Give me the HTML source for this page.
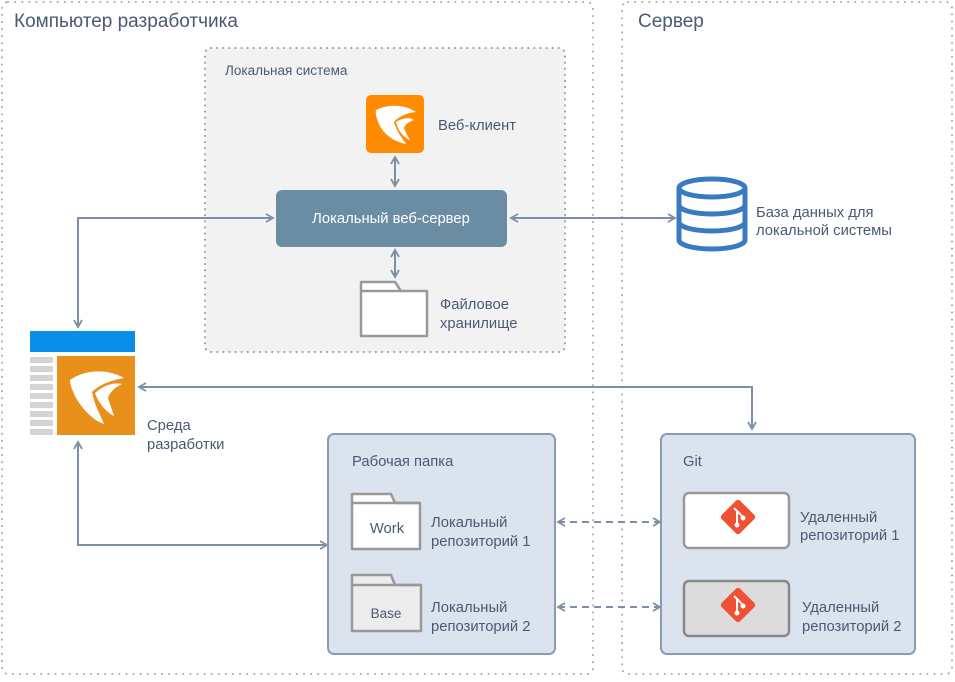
<!DOCTYPE html>
<html><head><meta charset="utf-8"><style>
html,body{margin:0;padding:0;background:#fff;}
text{font-family:"Liberation Sans",sans-serif;fill:#4a5a73;}
</style></head><body>
<svg width="955" height="677" xmlns="http://www.w3.org/2000/svg">
<defs>
<marker id="a" markerWidth="10" markerHeight="10" refX="8" refY="5" orient="auto-start-reverse" markerUnits="userSpaceOnUse">
<path d="M1,1 L8,5 L1,9" fill="none" stroke="#7d8fa8" stroke-width="1.8"/></marker>
</defs>
<rect x="2" y="2" width="591" height="672" rx="6" fill="none" stroke="#aaa" stroke-width="2" stroke-dasharray="0.1 7" stroke-linecap="round"/>
<rect x="622" y="2" width="330" height="672" rx="6" fill="none" stroke="#aaa" stroke-width="2" stroke-dasharray="0.1 7" stroke-linecap="round"/>
<text x="14" y="27" font-size="19">Компьютер разработчика</text>
<text x="638" y="27" font-size="19">Сервер</text>

<rect x="205" y="48" width="360" height="304" rx="6" fill="#f2f2f2" stroke="#999" stroke-width="2" stroke-dasharray="0.1 6" stroke-linecap="round"/>
<text x="225" y="75" font-size="13.5">Локальная система</text>

<rect x="366" y="95" width="58" height="58" rx="5" fill="#ff8c00"/>
<path d="M376,110 C388,104 404,104 416,112 C406,113 398,117 394,122 C396,130 402,138 406,144 C394,142 384,134 380,126 C377,120 375,114 376,110Z" fill="#fff"/>
<path d="M396,122 C402,118 410,117 414,120 C408,122 405,125 404,128 C406,133 408,137 410,140 C404,138 400,132 398,128Z" fill="#fff"/>
<text x="438" y="130" font-size="14.8">Веб-клиент</text>

<rect x="276" y="190" width="231" height="57" rx="6" fill="#6b8da3"/>
<text x="391" y="223" font-size="14.8" text-anchor="middle" style="fill:#fff">Локальный веб-сервер</text>

<line x1="395" y1="157" x2="395" y2="186" stroke="#7d8fa8" stroke-width="2" marker-start="url(#a)" marker-end="url(#a)"/>
<line x1="395" y1="250" x2="395" y2="277" stroke="#7d8fa8" stroke-width="2" marker-start="url(#a)" marker-end="url(#a)"/>

<path d="M361,336 V282 H395 L401,291 H427 V336 Z" fill="#fff" stroke="#999" stroke-width="2.5" stroke-linejoin="round"/>
<line x1="361" y1="291" x2="401" y2="291" stroke="#999" stroke-width="2.5"/>
<text x="440" y="309" font-size="14.8">Файловое</text>
<text x="440" y="328" font-size="14.8">хранилище</text>

<g fill="none" stroke="#3a7bbf" stroke-width="5">
<ellipse cx="712" cy="188" rx="33" ry="9"/>
<path d="M679,188 V240 A33,9 0 0 0 745,240 V188"/>
<path d="M679,205 A33,9 0 0 0 745,205"/>
<path d="M679,222 A33,9 0 0 0 745,222"/>
</g>
<text x="756" y="217" font-size="14.8">База данных для</text>
<text x="756" y="235" font-size="14.8">локальной системы</text>

<line x1="511" y1="218" x2="675" y2="218" stroke="#7d8fa8" stroke-width="2" marker-start="url(#a)" marker-end="url(#a)"/>
<path d="M273,218 H78 V327" fill="none" stroke="#7d8fa8" stroke-width="2" marker-start="url(#a)" marker-end="url(#a)"/>

<rect x="30" y="331" width="105" height="21" fill="#0a8ee8"/>
<g fill="#d4d4d4">
<rect x="30" y="357" width="23" height="6"/><rect x="30" y="366" width="23" height="6"/><rect x="30" y="375" width="23" height="6"/><rect x="30" y="384" width="23" height="6"/><rect x="30" y="393" width="23" height="6"/><rect x="30" y="402" width="23" height="6"/><rect x="30" y="411" width="23" height="6"/><rect x="30" y="420" width="23" height="6"/><rect x="30" y="429" width="23" height="6"/>
</g>
<rect x="57" y="356" width="78" height="79" fill="#e8901a"/>
<path d="M70,380 C84,370 106,368 124,378 C112,380 100,384 92,392 C94,404 100,414 104,424 C92,420 82,408 76,398 C72,390 70,384 70,380Z" fill="#fff"/>
<path d="M95,393 C104,385 114,382 122,384 C114,388 110,392 108,398 C110,404 112,410 114,416 C106,412 100,404 97,398Z" fill="#fff"/>
<text x="147" y="430" font-size="14.8">Среда</text>
<text x="147" y="449" font-size="14.8">разработки</text>

<path d="M139,387 H752 V429" fill="none" stroke="#7d8fa8" stroke-width="2" marker-start="url(#a)" marker-end="url(#a)"/>
<path d="M78,442 V545 H327" fill="none" stroke="#7d8fa8" stroke-width="2" marker-start="url(#a)" marker-end="url(#a)"/>

<rect x="328" y="434" width="227" height="220" rx="6" fill="#dbe3ef" stroke="#8a9bb5" stroke-width="2"/>
<text x="352" y="466" font-size="14.8">Рабочая папка</text>
<rect x="661" y="434" width="254" height="220" rx="6" fill="#dbe3ef" stroke="#8a9bb5" stroke-width="2"/>
<text x="683" y="466" font-size="14.8">Git</text>

<path d="M352,549 V494 H391 L395,503 H420 V549 Z" fill="#fff" stroke="#999" stroke-width="2.5" stroke-linejoin="round"/>
<line x1="352" y1="503" x2="420" y2="503" stroke="#999" stroke-width="2.5"/>
<text x="387" y="533" font-size="14.8" text-anchor="middle">Work</text>
<text x="431" y="527" font-size="14.8">Локальный</text>
<text x="431" y="546" font-size="14.8">репозиторий 1</text>

<path d="M352,631 V575 H391 L395,585 H421 V631 Z" fill="#ececec" stroke="#999" stroke-width="2.5" stroke-linejoin="round"/>
<line x1="352" y1="585" x2="421" y2="585" stroke="#999" stroke-width="2.5"/>
<text x="386" y="618" font-size="13.5" text-anchor="middle">Base</text>
<text x="431" y="612" font-size="14.8">Локальный</text>
<text x="431" y="631" font-size="14.8">репозиторий 2</text>

<line x1="558" y1="522" x2="660" y2="522" stroke="#7d8fa8" stroke-width="2" stroke-dasharray="7 5" marker-start="url(#a)" marker-end="url(#a)"/>
<line x1="558" y1="607" x2="660" y2="607" stroke="#7d8fa8" stroke-width="2" stroke-dasharray="7 5" marker-start="url(#a)" marker-end="url(#a)"/>

<rect x="684" y="493" width="105" height="55" rx="5" fill="#fff" stroke="#999" stroke-width="2.5"/>
<rect x="684" y="581" width="105" height="55" rx="5" fill="#dcdcdc" stroke="#888" stroke-width="2.5"/>
<g>
<rect x="725" y="504" width="26" height="26" rx="3" transform="rotate(45 738 517)" fill="#f05033"/>
<path d="M734,508 L742,516 M737,511 V525" stroke="#fff" stroke-width="2"/><circle cx="737" cy="525" r="2.5" fill="#fff"/><circle cx="743" cy="518" r="2.5" fill="#fff"/>
<rect x="725" y="592" width="26" height="26" rx="3" transform="rotate(45 738 605)" fill="#f05033"/>
<path d="M734,596 L742,604 M737,599 V613" stroke="#fff" stroke-width="2"/><circle cx="737" cy="613" r="2.5" fill="#fff"/><circle cx="743" cy="606" r="2.5" fill="#fff"/>
</g>
<text x="800" y="522" font-size="14.8">Удаленный</text>
<text x="800" y="540" font-size="14.8">репозиторий 1</text>
<text x="802" y="612" font-size="14.8">Удаленный</text>
<text x="802" y="631" font-size="14.8">репозиторий 2</text>
</svg>
</body></html>
